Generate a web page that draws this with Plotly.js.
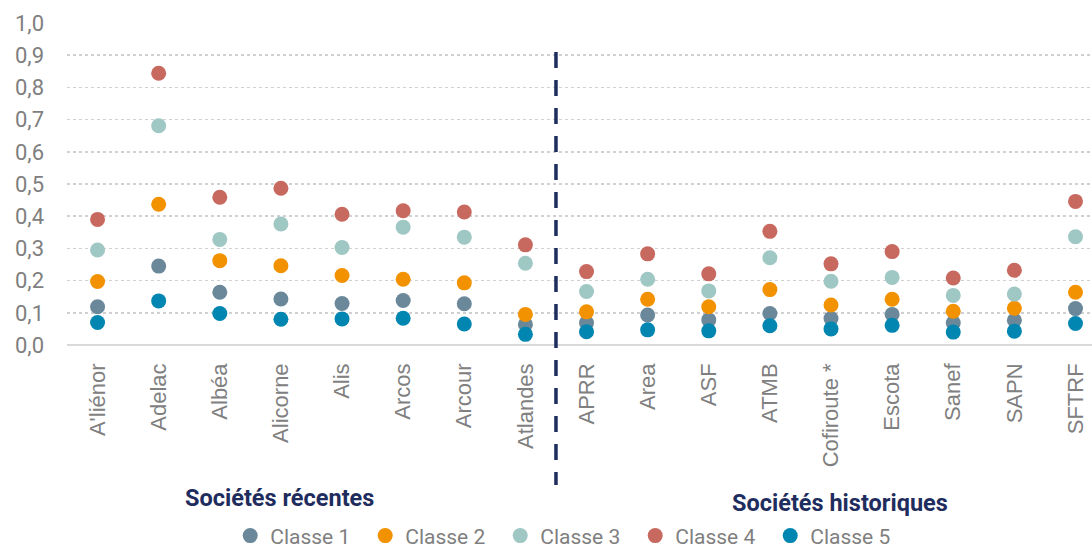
<!DOCTYPE html>
<html>
<head>
<meta charset="utf-8">
<script src="https://cdn.plot.ly/plotly-3.0.1.min.js"></script>
<style>html,body{margin:0;padding:0;background:#fff;}#chart{width:1092px;height:551px;}</style>
</head>
<body>
<div id="chart"></div>
<script>
var categories = ["A'liénor","Adelac","Albéa","Alicorne","Alis","Arcos","Arcour","Atlandes","APRR","Area","ASF","ATMB","Cofiroute *","Escota","Sanef","SAPN","SFTRF"];
var seriesNames = ["Classe 1","Classe 2","Classe 3","Classe 4","Classe 5"];
var classe1 = [0.119,0.245,0.164,0.143,0.129,0.138,0.128,0.064,0.069,0.093,0.078,0.098,0.082,0.095,0.069,0.077,0.113];
var classe2 = [0.197,0.437,0.262,0.246,0.216,0.204,0.193,0.095,0.103,0.142,0.119,0.172,0.124,0.142,0.105,0.114,0.164];
var classe3 = [0.295,0.681,0.328,0.376,0.303,0.366,0.335,0.254,0.166,0.204,0.168,0.271,0.198,0.210,0.154,0.158,0.336];
var classe4 = [0.390,0.844,0.459,0.487,0.406,0.417,0.413,0.311,0.228,0.283,0.221,0.353,0.252,0.290,0.208,0.232,0.446];
var classe5 = [0.070,0.137,0.098,0.080,0.081,0.083,0.065,0.033,0.041,0.047,0.044,0.060,0.050,0.061,0.040,0.043,0.067];
var groupLabels = ["Sociétés récentes","Sociétés historiques"];
var colors = ["#6b889a","#f39200","#9fc7c4","#c7695f","#0086b0"];

var allSeries = [classe1, classe2, classe3, classe4, classe5];
var traces = allSeries.map(function(vals, i){
  return {
    type: 'scatter', mode: 'markers',
    x: categories, y: vals, name: seriesNames[i],
    marker: {color: colors[i], size: 15, line: {width: 0}},
    cliponaxis: false
  };
});

var layout = {
  width: 1092, height: 551,
  margin: {l: 67, r: 0, t: 23, b: 206, autoexpand: false},
  paper_bgcolor: '#ffffff', plot_bgcolor: '#ffffff',
  separators: ', ',
  showlegend: true,
  legend: {
    orientation: 'h', x: 0.4885, xanchor: 'center', y: -0.593, yanchor: 'middle',
    font: {family: 'Roboto', size: 21, color: '#7f7f7f'},
    entrywidth: 90, entrywidthmode: 'pixels', tracegroupgap: 0
  },
  xaxis: {
    type: 'category', range: [-0.5, 16.27], fixedrange: true,
    tickangle: -90, ticks: '', showgrid: false, zeroline: false,
    showline: false,
    tickfont: {family: 'Liberation Sans, Arial', size: 22, color: '#808080'},
    ticklabelstandoff: 13
  },
  yaxis: {
    range: [0, 1.0], dtick: 0.1, tick0: 0, tickformat: '.1f',
    showgrid: true, gridcolor: '#d0d0d0', gridwidth: 1.5, griddash: 'dot',
    zeroline: true, zerolinecolor: '#d9d9d9', zerolinewidth: 2,
    showline: false, ticks: '',
    tickfont: {family: 'Roboto', size: 22, color: '#7f7f7f'},
    ticklabelstandoff: 22
  },
  shapes: [{
    type: 'line', xref: 'x', yref: 'paper',
    x0: 7.5, x1: 7.5, y0: 0.91, y1: -0.435,
    line: {color: '#1f2d5e', width: 3.5, dash: '16px,12px'}
  }],
  annotations: [
    {xref: 'paper', yref: 'paper', x: 0.207, y: -0.475, text: '<b>' + groupLabels[0] + '</b>', showarrow: false,
     font: {family: 'Roboto', size: 23.5, color: '#1f2d5e'}, xanchor: 'center', yanchor: 'middle'},
    {xref: 'paper', yref: 'paper', x: 0.754, y: -0.491, text: '<b>' + groupLabels[1] + '</b>', showarrow: false,
     font: {family: 'Roboto', size: 23.5, color: '#1f2d5e'}, xanchor: 'center', yanchor: 'middle'}
  ]
};

Plotly.newPlot('chart', traces, layout, {displayModeBar: false, staticPlot: true});
</script>
</body>
</html>
